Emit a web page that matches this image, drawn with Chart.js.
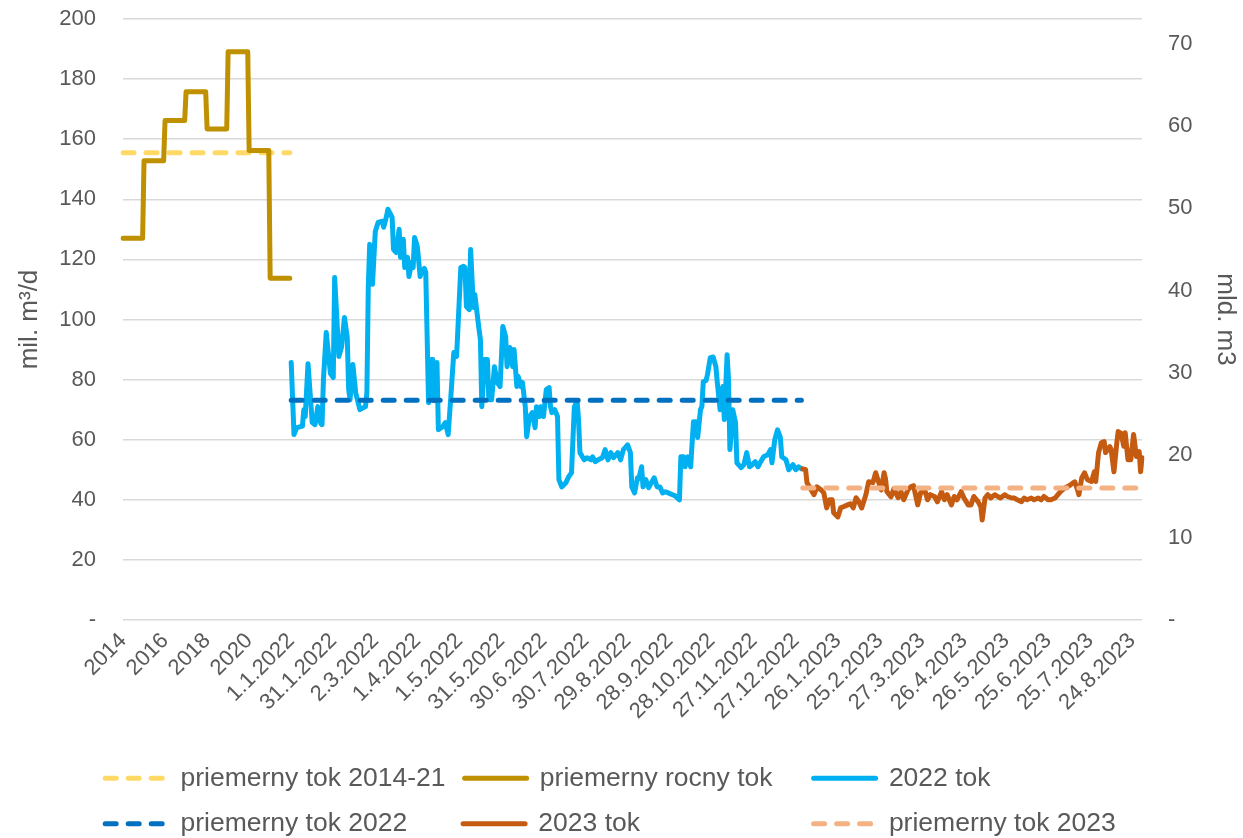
<!DOCTYPE html>
<html>
<head>
<meta charset="utf-8">
<script src="https://cdn.jsdelivr.net/npm/chart.js@4"></script>
<style>
  html, body { margin: 0; padding: 0; background: #fff; }
  #wrap { width: 1243px; height: 838px; }
</style>
</head>
<body>
<div id="wrap"><canvas id="flowChart"></canvas></div>
<script>
// yearly block: each year takes 15 category rows, as in the source sheet
const years = ['2014', '2015', '2016', '2017', '2018', '2019', '2020', '2021'];
const yearlyFlow = [127.0, 152.8, 166.2, 175.8, 163.4, 189.1, 156.2, 113.7];
const avgFlow2014to21 = 155.5;
const avgFlow2022 = 73.1;
const avgFlow2023 = 43.9;

// shown x labels (every 30th category)
const tickLabels = ['2014', '2016', '2018', '2020', '1.1.2022', '31.1.2022', '2.3.2022', '1.4.2022',
  '1.5.2022', '31.5.2022', '30.6.2022', '30.7.2022', '29.8.2022', '28.9.2022', '28.10.2022',
  '27.11.2022', '27.12.2022', '26.1.2023', '25.2.2023', '27.3.2023', '26.4.2023', '26.5.2023',
  '25.6.2023', '25.7.2023', '24.8.2023'];

// [day since 1.1.2022, mil. m3/d]
const flow2022 = [
  [0, 85.7], [2, 61.7], [4, 64], [8, 64.5], [9, 70], [10, 67.7], [12, 85.3], [15, 65.7], [17, 65],
  [19, 71], [21, 65.5], [22, 65], [23, 80], [25, 95.7], [28, 82], [30, 80.7], [31, 114], [34, 87.7],
  [36, 91], [38, 100.7], [40, 94], [41, 76.7], [42, 73.3], [44, 85], [46, 75.6], [49, 70], [53, 71],
  [54, 75.7], [55, 111], [56, 125], [58, 111.7], [60, 129.3], [62, 132.3], [65, 132.7], [66, 130.7],
  [68, 134.3], [69, 136.7], [72, 134], [73, 123.3], [75, 122.3], [77, 130], [78, 120.7], [80, 126.7],
  [81, 117.3], [83, 120.7], [84, 114.3], [86, 119], [87, 117.3], [88, 127.3], [90, 124.3], [92, 114.3],
  [93, 115.7], [95, 117], [96, 115.7], [98, 72.3], [100, 86.7], [101, 86.7], [102, 73], [104, 85.7],
  [105, 63.3], [108, 64.3], [110, 65.7], [112, 61.7], [114, 75], [116, 89], [118, 87.7], [121, 117.3],
  [123, 117.7], [124, 117.3], [125, 104.3], [127, 103.3], [128, 123.3], [130, 104], [131, 108.3],
  [134, 96.7], [135, 93.3], [136, 71], [138, 86.7], [140, 86.7], [141, 73.3], [143, 73.3], [145, 84.3],
  [147, 79], [149, 77.7], [151, 97.7], [153, 94.3], [154, 84.3], [156, 90.7], [158, 84.3], [159, 90],
  [161, 77.7], [162, 81], [164, 77.7], [165, 79], [167, 71], [168, 61], [170, 67.7], [172, 69],
  [174, 64], [175, 71], [177, 67.7], [178, 71], [180, 67.7], [182, 76.7], [184, 77.3], [185, 71],
  [186, 69], [188, 70], [190, 67.7], [191, 46.7], [193, 44.3], [196, 45.7], [198, 47.7], [200, 49],
  [202, 71], [204, 72.7], [205, 66.7], [206, 55.7], [209, 53.3], [211, 54], [214, 53.3], [215, 54.3],
  [217, 52.7], [219, 53.3], [222, 54], [224, 56.7], [226, 53.3], [228, 55.7], [230, 54], [233, 55.7],
  [235, 53.3], [237, 56.7], [240, 58.3], [242, 55.7], [243, 44.3], [245, 42.3], [247, 47.3], [248, 47],
  [250, 51], [251, 44.3], [253, 46.7], [255, 44], [257, 45.7], [259, 47.3], [261, 44.3], [263, 44.3],
  [265, 42.3], [267, 42.7], [269, 42.3], [272, 41.7], [274, 41.3], [277, 40], [278, 54.3], [280, 54.3],
  [281, 51], [283, 54.3], [285, 51], [287, 66], [289, 66], [290, 60.7], [292, 70], [293, 71],
  [294, 79.3], [296, 79.7], [297, 81.7], [299, 87.3], [301, 87.5], [303, 84.3], [304, 79], [306, 70],
  [308, 77.7], [309, 66.7], [311, 88.3], [312, 80], [313, 56.7], [314, 62.3], [315, 70], [317, 65.7],
  [318, 52.3], [321, 50.7], [323, 51.7], [325, 55.7], [327, 51], [329, 51.7], [331, 52.7], [333, 51],
  [335, 52.7], [337, 54.3], [340, 55], [342, 56.7], [343, 52.3], [345, 60], [347, 63.3], [349, 60.7],
  [350, 54.3], [353, 53.3], [355, 50], [358, 51.7], [360, 50], [362, 51], [364, 50.3]
];

// [day since 1.1.2023, mil. m3/d]
const flow2023 = [
  [0, 50.3], [2, 50], [3, 45.7], [6, 43.3], [8, 41.7], [10, 44.3], [13, 43.3], [15, 42.3], [17, 37.3],
  [19, 40], [21, 40], [22, 35.7], [25, 34.3], [27, 37.3], [29, 37.7], [32, 38.3], [34, 38.7], [36, 37.3],
  [38, 40.7], [40, 39.3], [42, 37.3], [45, 41.7], [47, 46], [50, 45.7], [52, 49], [54, 46], [56, 43.3],
  [58, 49], [59, 47], [60, 42.7], [63, 41], [65, 43.7], [68, 40.7], [70, 42.7], [72, 40], [75, 43.3],
  [77, 44.3], [79, 44.7], [82, 38.3], [84, 42.3], [87, 43.3], [89, 40], [91, 41.7], [94, 41.1],
  [96, 39.3], [99, 42.7], [101, 40], [103, 41.7], [106, 38.3], [108, 41.1], [110, 40], [113, 42.7],
  [115, 40.6], [118, 38.3], [120, 38.3], [122, 41.1], [125, 39.4], [127, 37.7], [128, 33.3], [130, 40.6],
  [132, 41.7], [134, 40.6], [137, 41.7], [139, 41.1], [141, 40.6], [144, 41.7], [146, 41.1], [149, 40.6],
  [151, 40.6], [153, 40], [156, 39.4], [158, 40.6], [160, 40], [163, 40.6], [165, 40], [168, 40.6],
  [170, 40], [172, 41.1], [175, 40], [177, 40], [180, 40.6], [182, 41.7], [184, 42.8], [187, 44],
  [189, 44.4], [191, 45], [194, 46], [196, 43.3], [197, 41.7], [199, 47.3], [201, 49], [203, 46.7],
  [206, 46.1], [208, 49.3], [209, 46.1], [211, 55.7], [213, 59], [215, 59.4], [216, 55.7], [219, 57.7],
  [220, 56.7], [222, 49.3], [224, 58.9], [225, 62.7], [227, 62.2], [229, 57.8], [230, 62.3], [232, 53.3],
  [234, 53.3], [236, 61.7], [238, 54.4], [240, 56], [241, 49.3], [242, 54]
];

const ROWS_PER_YEAR = 15;
const LAST_DAY = 607; // 31.8.2023

const dateLabels = [];
for (let d = 0; d <= LAST_DAY; d++) {
  const dt = new Date(Date.UTC(2022, 0, 1 + d));
  dateLabels.push(dt.getUTCDate() + '.' + (dt.getUTCMonth() + 1) + '.' + dt.getUTCFullYear());
}
const categories = years.flatMap(y => Array(ROWS_PER_YEAR).fill(y)).concat(dateLabels);

const textColor = '#595959';
const font = 'Liberation Sans, Arial, sans-serif';
const clear = 'rgba(0,0,0,0)';

// trailing spaces so legend entries line up in columns
const legendPad = {
  'priemerny tok 2014-21': 0,
  'priemerny rocny tok': 3,
  '2022 tok': 20,
  'priemerny tok 2022': 5,
  '2023 tok': 21,
  'priemerny tok 2023': 3
};

const line = {
  pointRadius: 0,
  borderWidth: 5,
  tension: 0,
  borderJoinStyle: 'round',
  borderCapStyle: 'round',
  fill: false
};

const datasets = [
  {
    ...line,
    label: 'priemerny tok 2014-21',
    data: Array(years.length * ROWS_PER_YEAR).fill(avgFlow2014to21),
    borderColor: '#FFD966',
    backgroundColor: '#FFD966',
    borderDash: [11, 12]
  },
  {
    ...line,
    label: 'priemerny rocny tok',
    data: yearlyFlow.flatMap(v => Array(ROWS_PER_YEAR).fill(v)),
    borderColor: '#BF9000',
    backgroundColor: '#BF9000'
  },
  {
    ...line,
    label: '2022 tok',
    data: flow2022.map(([d, v]) => ({ x: dateLabels[d], y: v })),
    borderColor: '#00B0F0',
    backgroundColor: '#00B0F0'
  },
  {
    ...line,
    label: 'priemerny tok 2022',
    data: [{ x: dateLabels[0], y: avgFlow2022 }, { x: dateLabels[364], y: avgFlow2022 }],
    borderColor: '#0070C0',
    backgroundColor: '#0070C0',
    borderDash: [11, 12]
  },
  {
    ...line,
    label: '2023 tok',
    data: flow2023.map(([d, v]) => ({ x: dateLabels[365 + d], y: v })),
    borderColor: '#C55A11',
    backgroundColor: '#C55A11'
  },
  {
    ...line,
    label: 'priemerny tok 2023',
    data: [{ x: dateLabels[365], y: avgFlow2023 }, { x: dateLabels[LAST_DAY], y: avgFlow2023 }],
    borderColor: '#F4B183',
    backgroundColor: '#F4B183',
    borderDash: [11, 12]
  }
];

const config = {
  type: 'line',
  data: {
    labels: categories,
    // reversed so later series paint on top, like the spreadsheet
    datasets: datasets.slice().reverse()
  },
  options: {
    responsive: true,
    maintainAspectRatio: false,
    animation: false,
    layout: {
      padding: { top: 19, right: 0, bottom: -9, left: 0 }
    },
    plugins: {
      tooltip: { enabled: false },
      legend: {
        position: 'bottom',
        reverse: true,
        labels: {
          usePointStyle: true,
          pointStyle: 'line',
          pointStyleWidth: 62,
          padding: 19,
          color: textColor,
          font: { family: font, size: 26.5 },
          generateLabels: (chart) => {
            const items = Chart.defaults.plugins.legend.labels.generateLabels(chart);
            items.forEach(item => {
              const ds = chart.data.datasets[item.datasetIndex];
              item.lineDash = ds.borderDash || [];
              item.lineCap = 'round';
              item.lineWidth = 5;
              item.strokeStyle = ds.borderColor;
              item.text = item.text + ' '.repeat(legendPad[item.text] || 0);
            });
            return items;
          }
        }
      }
    },
    scales: {
      x: {
        type: 'category',
        offset: false,
        grid: { display: false, drawTicks: false },
        border: { display: false },
        afterBuildTicks: (scale) => {
          scale.ticks = scale.ticks.filter(t => t.value % 30 === 0);
        },
        afterFit: (scale) => { scale.height = 126; },
        ticks: {
          autoSkip: false,
          minRotation: 45,
          maxRotation: 45,
          padding: 8,
          color: textColor,
          font: { family: font, size: 22 },
          callback: (value) => tickLabels[value / 30]
        }
      },
      y: {
        type: 'linear',
        position: 'left',
        min: 0,
        max: 200,
        grid: { color: '#d9d9d9', lineWidth: 1.5, drawTicks: true, tickLength: 27, tickColor: clear },
        border: { display: false },
        afterFit: (scale) => { scale.width = 123; },
        title: {
          display: true,
          text: 'mil. m³/d',
          color: textColor,
          font: { family: font, size: 26 },
          padding: { top: 14, bottom: 0 }
        },
        ticks: {
          stepSize: 20,
          padding: 0,
          color: textColor,
          font: { family: font, size: 22 },
          callback: (value) => value === 0 ? '-' : value
        }
      },
      yRight: {
        type: 'linear',
        position: 'right',
        min: 0,
        max: 73,
        grid: { drawOnChartArea: false, drawTicks: true, tickLength: 26, tickColor: clear },
        border: { display: false },
        afterFit: (scale) => { scale.width = 101; },
        title: {
          display: true,
          text: 'mld. m3',
          color: textColor,
          font: { family: font, size: 26 },
          padding: { top: 2, bottom: 0 }
        },
        ticks: {
          stepSize: 10,
          includeBounds: false,
          padding: 0,
          color: textColor,
          font: { family: font, size: 22 },
          callback: (value) => value === 0 ? '-' : value
        }
      }
    }
  }
};

new Chart(document.getElementById('flowChart'), config);
</script>
</body>
</html>
